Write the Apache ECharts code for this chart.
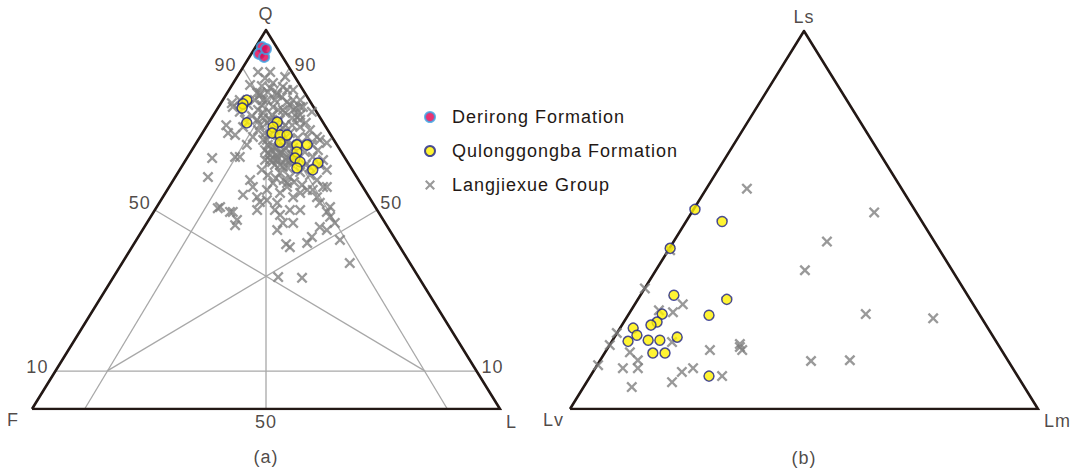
<!DOCTYPE html>
<html><head><meta charset="utf-8">
<script src="https://cdn.jsdelivr.net/npm/echarts@6/dist/echarts.min.js"></script>
<style>html,body{margin:0;padding:0;background:#fff}#c{width:1072px;height:470px}#c text{letter-spacing:1px}</style>
</head><body><div id="c"></div>
<script>
// Ternary plot coordinates: [x, y] with y = top-apex %, x = right-apex % + y/2 (0..100)
const seriesNames = ['Derirong Formation', 'Qulonggongba Formation', 'Langjiexue Group'];
const qflApexNames = ['Q', 'F', 'L'];
const lslApexNames = ['Ls', 'Lv', 'Lm'];
const qflTickLabels = ['90', '90', '50', '50', '10', '10', '50'];
const panelTitles = ['(a)', '(b)'];

const qflDerirong = [[49.1,95.5],[48.5,93.7],[49.6,92.9],[50.0,95.0]];
const qflQulonggongba = [[45.9,81.5],[45.1,80.5],[44.9,79.4],[45.9,75.5],[52.4,75.7],[51.5,74.4],[51.3,72.8],[53.0,72.3],[54.5,72.3],[53.0,70.4],[56.6,69.7],[58.8,69.7],[56.6,67.8],[56.2,66.2],[57.3,65.2],[56.6,63.6],[61.1,64.9],[60.0,63.1]];
const qflLangjiexue = [
 [48.3,88.9],[50.9,88.9],[49.8,87.3],[54.1,87.6],[51.5,86.0],[46.6,85.5],[53.6,85.0],[55.8,84.2],[48.1,83.4],[52.4,82.8],
 [57.3,81.5],[57.9,79.7],[42.9,79.7],[49.4,81.5],[54.5,81.0],[51.5,79.7],[48.3,78.9],[55.8,78.9],[57.3,77.6],
 [42.7,80.7],[38.5,66.2],[37.6,61.2],[41.9,72.8],[43.4,72.3],[45.1,74.4],[47.2,71.8],[44.4,66.5],[45.9,69.7],[43.4,66.5],
 [48.7,83.4],[50.2,81.5],[52.4,83.4],[54.5,84.2],[55.8,81.5],[57.3,79.7],[53.6,78.9],[49.4,78.1],[48.1,76.3],[50.2,75.5],
 [56.6,77.0],[57.3,74.4],[59.4,73.6],[58.8,71.8],[60.9,71.8],[63.0,70.2],[62.2,65.7],[63.0,63.1],[60.9,60.4],[58.8,57.8],
 [63.0,58.6],[63.7,53.3],[61.5,54.4],[50.2,71.0],[51.5,69.1],[53.0,67.5],[54.5,66.5],[52.4,65.7],[55.1,64.9],[50.9,65.7],
 [53.6,63.9],[53.0,62.3],[55.1,61.2],[51.5,59.6],[54.5,58.6],[50.2,57.8],[53.0,57.0],[55.8,55.9],[50.2,55.1],[52.4,54.4],
 [48.1,55.9],[46.6,60.4],[47.2,58.6],[45.1,56.5],[40.2,53.3],[42.9,52.0],[48.1,52.5],[57.3,52.5],[60.0,57.8],[59.4,63.9],
 [60.0,66.5],[58.3,67.8],[39.7,53.0],[42.3,52.0],[43.8,49.9],[43.4,48.5],[48.7,54.6],[51.9,52.5],[53.0,51.2],[55.1,52.5],
 [55.8,49.1],[53.6,49.1],[52.4,47.2],[55.1,42.7],[58.8,43.8],[59.8,45.4],[63.0,47.2],[62.2,58.6],[60.9,55.9],[63.0,52.0],
 [63.7,50.7],[64.7,49.1],[65.8,44.6],[67.9,38.5],[52.6,34.8],[57.7,34.6],[54.5,59.6],[57.3,57.0],[54.3,43.5],[61.5,48.0],
 [50.4,69.7],[51.3,68.3],[52.1,68.9],[53.4,67.8],[54.1,68.9],[50.9,67.0],[52.6,66.2],[54.3,65.7],[55.6,67.0],[51.9,64.4],
 [49.8,68.3],[49.4,71.0],[55.1,69.7],[54.7,71.0],[49.1,85.2],[50.9,84.7],[47.6,81.5],[46.2,80.2],[44.4,78.4],[47.0,77.3],
 [45.5,76.3],[49.1,80.2],[51.3,77.6],[53.0,76.3],[54.1,74.9],[55.6,74.9],[48.3,73.6],[49.8,72.8],[57.3,76.3],[58.5,75.5],
 [59.8,78.4],[44.4,81.5],[61.5,71.0],[41.5,74.9],
 [48.7,82.8],[50.4,83.6],[51.9,81.5],[53.4,82.3],[55.1,80.2],[56.4,79.4],[49.4,76.8],[50.9,76.3],[52.6,78.9],[54.1,78.1],
 [55.6,76.8],[48.7,74.9],[51.9,73.6],[53.6,74.1],[55.1,72.8],[56.8,71.5],[50.9,72.3],[52.6,71.0],[54.3,70.2],[55.8,68.9],
 [50.4,67.5],[52.1,67.0],[53.8,68.3],[55.3,65.7],[51.3,65.2],[53.0,64.4],[54.7,63.6],[49.8,65.7],[49.1,63.1],[50.4,61.7],
 [52.1,60.9],[53.8,60.4],[56.0,59.9],[57.3,62.5],[58.5,64.4],[57.7,59.1],[59.4,61.7],[61.1,68.3],[59.8,69.7],[61.5,64.4]
];

const lslQulonggongba = [[26.7,52.8],[32.5,49.6],[21.4,42.5],[22.2,30.1],[33.5,29.0],[29.7,24.8],[19.7,25.1],[18.6,23.0],[17.3,22.2],[13.5,21.4],[14.3,19.5],[12.4,17.9],[16.7,18.2],[19.2,18.2],[22.9,19.0],[17.7,14.8],[20.3,14.8],[29.7,8.7]];
const lslLangjiexue = [[37.8,58.3],[65.0,52.0],[54.9,44.3],[50.2,36.7],[63.2,25.1],[77.6,24.0],[51.5,12.7],[59.8,12.9],[16.0,31.9],[24.1,27.7],[22.0,25.6],[19.0,26.1],[10.0,20.1],[8.5,16.9],[6.0,11.6],[12.8,15.0],[14.5,12.9],[11.3,10.8],[14.5,10.8],[13.2,5.8],[21.8,17.7],[23.9,9.8],[26.3,10.8],[21.8,7.1],[29.9,15.6],[32.5,8.7],[36.3,16.4],[36.8,15.6],[36.3,17.2],[21.4,42.0]];

const triangleOutline = [[0,0],[100,0],[50,100],[0,0]];
const qflGuideLines = [
 [[5,10],[95,10]], [[50,80],[50,0]], [[55,90],[11.25,0]], [[45,90],[88.75,0]],
 [[26.25,52.5],[84,10]], [[73.75,52.5],[16,10]]
];

const FONT = '"Liberation Sans", Arial, sans-serif';
const TXT = '#231815';
const X_PATH = 'path://M0,1.8L1.8,0L6,4.2L10.2,0L12,1.8L7.8,6L12,10.2L10.2,12L6,7.8L1.8,12L0,10.2L4.2,6Z';

const chart = echarts.init(document.getElementById('c'), null, {renderer: 'svg'});

function lineSeries(grid, data, color, width, z) {
  return {type: 'line', xAxisIndex: grid, yAxisIndex: grid, data: data, symbol: 'none', silent: true,
    lineStyle: {color: color, width: width, join: 'miter'}, z: z, animation: false};
}
function crossSeries(grid, data) {
  return {type: 'scatter', name: seriesNames[2], xAxisIndex: grid, yAxisIndex: grid, data: data,
    symbol: X_PATH, symbolSize: 11, itemStyle: {color: '#808080'}, z: 3, animation: false};
}
function yellowSeries(grid, data) {
  return {type: 'scatter', name: seriesNames[1], xAxisIndex: grid, yAxisIndex: grid, data: data,
    symbol: 'circle', symbolSize: 10, itemStyle: {color: '#fff100', borderColor: '#1d2088', borderWidth: 1.5}, z: 4, animation: false};
}
function lab(name, value, position, distance, offset) {
  return {name: name, value: value, label: {position: position, distance: distance, offset: offset || [0,0]}};
}
function labelSeries(grid, data) {
  return {type: 'scatter', xAxisIndex: grid, yAxisIndex: grid, symbolSize: 0, silent: true, animation: false,
    label: {show: true, formatter: p => p.name, fontSize: 18, fontFamily: FONT, color: TXT},
    data: data, z: 6};
}

const series = [];
qflGuideLines.forEach(seg => series.push(lineSeries(0, seg, '#a8a8a8', 1.3, 1)));
series.push(crossSeries(0, qflLangjiexue));
series.push(crossSeries(1, lslLangjiexue));
series.push(yellowSeries(0, qflQulonggongba));
series.push(yellowSeries(1, lslQulonggongba));
series.push({type: 'scatter', name: seriesNames[0], xAxisIndex: 0, yAxisIndex: 0, data: qflDerirong,
  symbol: 'circle', symbolSize: 10, itemStyle: {color: '#e5004f', borderColor: '#3aa3e3', borderWidth: 2}, z: 5, animation: false});
series.push(lineSeries(0, triangleOutline, TXT, 2.6, 2));
series.push(lineSeries(1, triangleOutline, TXT, 2.6, 2));
series.push(labelSeries(0, [
  lab(qflApexNames[0], [50,100], 'top', 7),
  lab(qflApexNames[1], [0,0], 'left', 13, [0,11]),
  lab(qflApexNames[2], [100,0], 'right', 6, [0,13]),
  lab(qflTickLabels[0], [45,90], 'left', 6, [0,-3]),
  lab(qflTickLabels[1], [55,90], 'right', 5, [0,-3]),
  lab(qflTickLabels[2], [26.25,52.5], 'left', 4, [0,-7]),
  lab(qflTickLabels[3], [73.75,52.5], 'right', 3, [0,-7]),
  lab(qflTickLabels[4], [5,10], 'left', 7, [0,-4]),
  lab(qflTickLabels[5], [95,10], 'right', 5, [0,-4]),
  lab(qflTickLabels[6], [50,0], 'bottom', 4),
  lab(panelTitles[0], [50,0], 'bottom', 39)
]));
series.push(labelSeries(1, [
  lab(lslApexNames[0], [50,100], 'top', 5),
  lab(lslApexNames[1], [0,0], 'left', 6, [0,11]),
  lab(lslApexNames[2], [100,0], 'right', 6, [0,12]),
  lab(panelTitles[1], [50,0], 'bottom', 40)
]));

chart.setOption({
  backgroundColor: '#fff',
  animation: false,
  grid: [
    {left: 32, top: 30, width: 468, height: 379},
    {left: 570, top: 31, width: 468, height: 378}
  ],
  xAxis: [
    {gridIndex: 0, type: 'value', min: 0, max: 100, show: false},
    {gridIndex: 1, type: 'value', min: 0, max: 100, show: false}
  ],
  yAxis: [
    {gridIndex: 0, type: 'value', min: 0, max: 100, show: false},
    {gridIndex: 1, type: 'value', min: 0, max: 100, show: false}
  ],
  legend: {
    orient: 'vertical', left: 419, top: 102, itemWidth: 24, itemHeight: 10, itemGap: 14,
    selectedMode: false,
    data: [
      {name: seriesNames[0], icon: 'circle'},
      {name: seriesNames[1], icon: 'circle'},
      {name: seriesNames[2], icon: X_PATH}
    ],
    textStyle: {fontSize: 18, fontFamily: FONT, color: TXT, lineHeight: 20, padding: [0,0,0,5]}
  },
  series: series
});
</script></body></html>
